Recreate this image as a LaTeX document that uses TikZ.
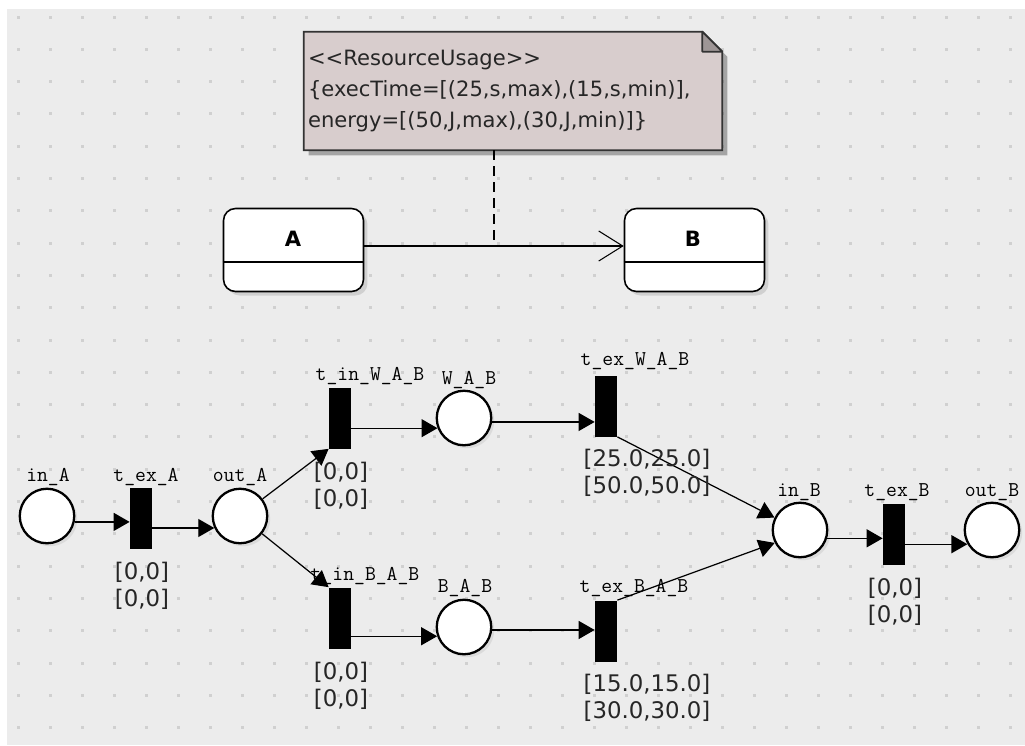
\documentclass[tikz,border=0pt]{standalone}
\usepackage{fontspec}
\newfontfamily\uifont{DejaVu Sans}
\usetikzlibrary{arrows.meta,backgrounds,calc,shadows}
\definecolor{canvas}{RGB}{236,236,236}
\definecolor{gridgray}{RGB}{208,208,208}
\definecolor{notefill}{RGB}{216,205,205}
\definecolor{foldfill}{RGB}{158,150,150}

\begin{document}
\begin{tikzpicture}[x=0.02cm,y=-0.02cm,
	place/.style={draw,circle,fill=white,line width=1.3pt,minimum size=1.09cm,inner sep=0pt,drop shadow={shadow xshift=0.06cm,shadow yshift=-0.06cm,opacity=0.15}},
	trans/.style={fill=black,rectangle,minimum width=0.44cm,minimum height=1.22cm,inner sep=0pt},
	arc/.style={draw,line width=0.7pt,-{Triangle[length=0.32cm,width=0.36cm]}},
	plab/.style={font=\fontsize{12}{12}\ttfamily,inner sep=0pt,anchor=base},
	ival/.style={font=\uifont\fontsize{13}{15.4}\selectfont,align=center,inner sep=0pt,text=black!85},
	state/.style={draw,rounded corners=0.24cm,fill=white,line width=0.9pt,minimum width=2.8cm,minimum height=1.66cm,drop shadow={shadow xshift=0.08cm,shadow yshift=-0.08cm,opacity=0.25}},
	sname/.style={font=\uifont\bfseries\fontsize{12}{12}\selectfont,inner sep=0pt},
	notetext/.style={font=\uifont\fontsize{12}{17.9}\selectfont,text width=8.2cm,align=left,inner xsep=0.08cm,inner ysep=0pt,minimum height=2.36cm,text=black!85},
	umlarrow/.style={draw,line width=0.6pt,-{Straight Barb[length=0.48cm,width=0.6cm,line width=0.6pt]}},
	dashline/.style={draw,line width=0.6pt,dash pattern=on 0.2cm off 0.12cm}]
	\useasboundingbox (0,0) rectangle (1025,745);

	% canvas with grid dots
	\begin{scope}[on background layer]
	\fill[white] (0,0) rectangle (1025,745);
	\fill[canvas] (7,9) rectangle (1025,745);
	\foreach \i in {0,...,31}
		\foreach \j in {0,...,22}
			\fill[gridgray] ({16.5+32*\i},{15.5+32.3*\j}) rectangle ++(3,3);
	\end{scope}

	% state machine
	\node[notetext] (note) at (513,91) {<{}<ResourceUsage>{}>\\\{execTime=[(25,s,max),(15,s,min)],\\energy=[(50,J,max),(30,J,min)]\}};
	\begin{scope}[on background layer]
	\fill[black,opacity=0.3] ([xshift=0.1cm,yshift=-0.1cm]note.north west) -- ([xshift=-0.3cm,yshift=-0.1cm]note.north east) -- ([xshift=0.1cm,yshift=-0.5cm]note.north east) -- ([xshift=0.1cm,yshift=-0.1cm]note.south east) -- ([xshift=0.1cm,yshift=-0.1cm]note.south west) -- cycle;
	\filldraw[fill=notefill,draw=black!80,line width=1pt] (note.north west) -- ([xshift=-0.4cm]note.north east) -- ([yshift=-0.4cm]note.north east) -- (note.south east) -- (note.south west) -- cycle;
	\filldraw[fill=foldfill,draw=black!80,line width=1pt,line join=round] ([xshift=-0.4cm]note.north east) -- ([xshift=-0.4cm,yshift=-0.4cm]note.north east) -- ([yshift=-0.4cm]note.north east) -- cycle;
	\end{scope}

	\node[state] (A) at (293.5,250) {};
	\node[state] (B) at (694.5,250) {};
	\node[sname] (nA) at (293,239) {A};
	\node[sname] (nB) at (693,239) {B};
	\draw[line width=0.9pt] ($(A.north west)!0.64!(A.south west)$) -- ($(A.north east)!0.64!(A.south east)$);
	\draw[line width=0.9pt] ($(B.north west)!0.64!(B.south west)$) -- ($(B.north east)!0.64!(B.south east)$);
	\path[umlarrow] ([yshift=0.08cm]A.east) -- ([yshift=0.08cm]B.west);
	\coordinate (mid) at ($([yshift=0.08cm]A.east)!0.5!([yshift=0.08cm]B.west)$);
	\path[dashline] (note.south -| mid) -- (mid);

	% petri net
	\node[place] (inA) at (47,516) {};
	\node[trans] (texA) at (141,518) {};
	\node[place] (outA) at (240,516) {};
	\node[trans] (tinW) at (340,418) {};
	\node[place] (WAB) at (464,418) {};
	\node[trans] (texW) at (606,406) {};
	\node[trans] (tinB) at (340,618) {};
	\node[place] (BAB) at (464,627) {};
	\node[trans] (texBAB) at (606,631) {};
	\node[place] (inB) at (800,530) {};
	\node[trans] (texB) at (894,534) {};
	\node[place] (outB) at (992,530) {};

	\path[arc] (inA.348) -- (inA.348 -| texA.west);
	\path[arc] (texA.east |- outA.205) -- (outA.205);
	\path[arc] (outA) -- (tinW.south west);
	\path[arc] (outA) -- (tinB.north west);
	\path[arc] (tinW.east |- WAB.201) -- (WAB.201);
	\path[arc] (tinB.east |- BAB.199) -- (BAB.199);
	\path[arc] (WAB.352) -- (WAB.352 -| texW.west);
	\path[arc] (BAB.354) -- (BAB.354 -| texBAB.west);
	\path[arc] (texW.south east) -- (inB.154);
	\path[arc] (texBAB.north east) -- (inB.207);
	\path[arc] (inB.343) -- (inB.343 -| texB.west);
	\path[arc] (texB.east |- outB.210) -- (outB.210);

	\node[plab] (linA) at (48,481) {in\_A};
	\node[plab] (ltexA) at (146,481) {t\_ex\_A};
	\node[plab] (loutA) at (240,481) {out\_A};
	\node[plab] (ltinW) at (370,380) {t\_in\_W\_A\_B};
	\node[plab] (lWAB) at (469,384) {W\_A\_B};
	\node[plab] (ltexW) at (635,365) {t\_ex\_W\_A\_B};
	\node[plab] (ltinB) at (365,580) {t\_in\_B\_A\_B};
	\node[plab] (lBAB) at (465,592) {B\_A\_B};
	\node[plab] (ltexBAB) at (634,592) {t\_ex\_B\_A\_B};
	\node[plab] (linB) at (799,496) {in\_B};
	\node[plab] (ltexB) at (897,496) {t\_ex\_B};
	\node[plab] (loutB) at (992,496) {out\_B};

	\node[ival] (itexA) at (142,586) {{[0,0]}\\{[0,0]}};
	\node[ival] (itinW) at (341,486) {{[0,0]}\\{[0,0]}};
	\node[ival] (itinB) at (341,686) {{[0,0]}\\{[0,0]}};
	\node[ival] (itexW) at (647,473) {{[25.0,25.0]}\\{[50.0,50.0]}};
	\node[ival] (itexBAB) at (647,698) {{[15.0,15.0]}\\{[30.0,30.0]}};
	\node[ival] (itexB) at (895,602) {{[0,0]}\\{[0,0]}};
\end{tikzpicture}
\end{document}
